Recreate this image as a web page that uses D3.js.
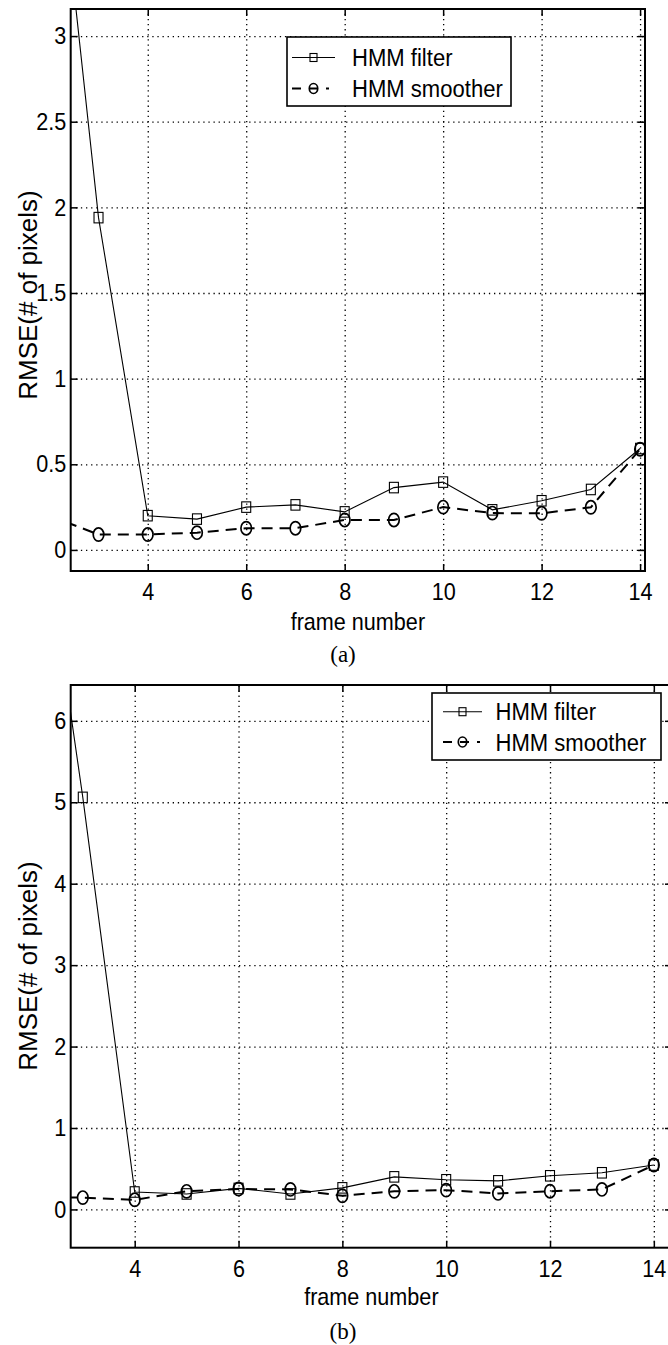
<!DOCTYPE html>
<html>
<head>
<meta charset="utf-8">
<script src="https://cdn.jsdelivr.net/npm/d3@7"></script>
<style>
  body { margin: 0; background: #fff; }
  text { font-family: "Liberation Sans", Arial, sans-serif; fill: #000; }
  .caption { font-family: "Liberation Serif", "Times New Roman", serif; }
</style>
</head>
<body>
<svg id="chart"></svg>
<script>
// values
const frames = [2, 3, 4, 5, 6, 7, 8, 9, 10, 11, 12, 13, 14];
const filterA = [4.6, 1.94, 0.2, 0.18, 0.25, 0.263, 0.222, 0.364, 0.396, 0.234, 0.287, 0.353, 0.592];
const smootherA = [0.2, 0.09, 0.09, 0.101, 0.127, 0.127, 0.175, 0.175, 0.25, 0.215, 0.214, 0.249, 0.588];
const filterB = [9.5, 5.06, 0.214, 0.19, 0.258, 0.19, 0.265, 0.4, 0.364, 0.351, 0.413, 0.45, 0.545];
const smootherB = [0.15, 0.145, 0.118, 0.222, 0.25, 0.246, 0.168, 0.222, 0.237, 0.197, 0.224, 0.246, 0.545];

const xTicks = [4, 6, 8, 10, 12, 14];
const yTicksA = [0, 0.5, 1, 1.5, 2, 2.5, 3];
const yTicksB = [0, 1, 2, 3, 4, 5, 6];
const seriesNames = ["HMM filter", "HMM smoother"];
const xLabel = "frame number";
const yLabel = "RMSE(# of pixels)";
const captions = ["(a)", "(b)"];

const width = 668;
const height = 1345;

const svg = d3.select("#chart").attr("width", width).attr("height", height);

const panels = [
  {
    id: "a", filter: filterA, smoother: smootherA, yTicks: yTicksA, caption: captions[0],
    left: 70.7, right: 645, top: 9, bottom: 571,
    xDomain: [2.435, 14.1], yDomain: [-0.123, 3.158],
    yLabelY: 295, captionY: 662, xLabelY: 630,
    legend: { x0: 287, x1: 511, y0: 37, y1: 106, sx0: 292, sx1: 335, tx: 352, rows: [57.5, 88.5] }
  },
  {
    id: "b", filter: filterB, smoother: smootherB, yTicks: yTicksB, caption: captions[1],
    left: 70.7, right: 672, top: 685, bottom: 1247.7,
    xDomain: [2.767, 14.35], yDomain: [-0.47, 6.44],
    yLabelY: 966, captionY: 1339, xLabelY: 1305,
    legend: { x0: 432, x1: 661, y0: 693, y1: 760, sx0: 443, sx1: 482, tx: 495.5, rows: [711.7, 742] }
  }
];

// narrow Helvetica look: squeeze the glyphs horizontally
function narrowText(g, x, y, str, size, sx, anchor) {
  return g.append("text")
    .attr("transform", `translate(${x}, ${y}) scale(${sx}, 1)`)
    .attr("text-anchor", anchor || "start")
    .attr("font-size", size)
    .text(str);
}

function square(g, cx, cy, w, h) {
  g.append("rect")
    .attr("x", cx - w / 2).attr("y", cy - h / 2)
    .attr("width", w).attr("height", h)
    .attr("fill", "none").attr("stroke", "#000").attr("stroke-width", 1.1);
}

function circle(g, cx, cy, rx, ry) {
  g.append("ellipse")
    .attr("cx", cx).attr("cy", cy).attr("rx", rx).attr("ry", ry)
    .attr("fill", "none").attr("stroke", "#000").attr("stroke-width", 1.7);
}

panels.forEach(p => {
  const x = d3.scaleLinear().domain(p.xDomain).range([p.left, p.right]);
  const y = d3.scaleLinear().domain(p.yDomain).range([p.bottom, p.top]);
  const w = p.right - p.left;
  const h = p.bottom - p.top;

  const g = svg.append("g").attr("id", "panel-" + p.id);

  // dotted grid
  const gx = g.append("g")
    .attr("transform", `translate(0, ${p.bottom})`)
    .call(d3.axisBottom(x).tickValues(xTicks).tickSize(-h).tickFormat(""));
  const gy = g.append("g")
    .attr("transform", `translate(${p.left}, 0)`)
    .call(d3.axisLeft(y).tickValues(p.yTicks).tickSize(-w).tickFormat(""));
  [gx, gy].forEach(a => {
    a.select(".domain").remove();
    a.selectAll("line").attr("stroke", "#000").attr("stroke-width", 1.3).attr("stroke-dasharray", "1.3,3.8");
  });

  // series
  const clipId = "clip-" + p.id;
  g.append("clipPath").attr("id", clipId)
    .append("rect").attr("x", p.left).attr("y", p.top).attr("width", w).attr("height", h);
  const plot = g.append("g").attr("clip-path", `url(#${clipId})`);

  const line = d3.line().x(d => x(d[0])).y(d => y(d[1]));
  const filterPts = frames.map((f, i) => [f, p.filter[i]]);
  const smootherPts = frames.map((f, i) => [f, p.smoother[i]]);

  plot.append("path").datum(smootherPts)
    .attr("d", line).attr("fill", "none").attr("stroke", "#000")
    .attr("stroke-width", 2).attr("stroke-dasharray", "11,7");
  plot.append("path").datum(filterPts)
    .attr("d", line).attr("fill", "none").attr("stroke", "#000").attr("stroke-width", 1.1);

  filterPts.forEach(d => square(plot, x(d[0]), y(d[1]), 9, 10.5));
  smootherPts.forEach(d => circle(plot, x(d[0]), y(d[1]), 5.3, 6.6));

  // legend
  const L = p.legend;
  const lg = g.append("g").attr("class", "legend");
  lg.append("rect")
    .attr("x", L.x0).attr("y", L.y0).attr("width", L.x1 - L.x0).attr("height", L.y1 - L.y0)
    .attr("fill", "#fff").attr("stroke", "#000").attr("stroke-width", 1.6);
  const mid = (L.sx0 + L.sx1) / 2;
  lg.append("line")
    .attr("x1", L.sx0).attr("x2", L.sx1).attr("y1", L.rows[0]).attr("y2", L.rows[0])
    .attr("stroke", "#000").attr("stroke-width", 1.1);
  square(lg, mid, L.rows[0], 7, 8);
  lg.append("line")
    .attr("x1", L.sx0).attr("x2", L.sx1).attr("y1", L.rows[1]).attr("y2", L.rows[1])
    .attr("stroke", "#000").attr("stroke-width", 2).attr("stroke-dasharray", "9,8,9,8,3,100");
  circle(lg, mid, L.rows[1], 4.2, 5);
  seriesNames.forEach((name, i) => {
    narrowText(lg, L.tx, L.rows[i] + 8.5, name, 24, 0.92);
  });

  // axes with inward ticks on all four sides
  const axB = g.append("g").attr("transform", `translate(0, ${p.bottom})`)
    .call(d3.axisBottom(x).tickValues(xTicks).tickSize(-7).tickPadding(14).tickFormat(d3.format("d")));
  const axT = g.append("g").attr("transform", `translate(0, ${p.top})`)
    .call(d3.axisTop(x).tickValues(xTicks).tickSize(-7).tickFormat(""));
  const axL = g.append("g").attr("transform", `translate(${p.left}, 0)`)
    .call(d3.axisLeft(y).tickValues(p.yTicks).tickSize(-7).tickPadding(5).tickFormat(d3.format("~g")));
  const axR = g.append("g").attr("transform", `translate(${p.right}, 0)`)
    .call(d3.axisRight(y).tickValues(p.yTicks).tickSize(-7).tickFormat(""));
  [axB, axT, axL, axR].forEach(a => {
    a.select(".domain").remove();
    a.selectAll("line").attr("stroke", "#000").attr("stroke-width", 1.5);
    a.selectAll("text")
      .attr("font-size", 24).attr("font-family", null).attr("fill", "#000")
      .attr("transform", "scale(0.9, 1)");
  });
  axB.selectAll("text").attr("dy", "0.62em");

  g.append("rect")
    .attr("x", p.left).attr("y", p.top).attr("width", w).attr("height", h)
    .attr("fill", "none").attr("stroke", "#000").attr("stroke-width", 2);

  // labels
  narrowText(g, (p.left + p.right) / 2, p.xLabelY, xLabel, 24, 0.9, "middle");
  g.append("text")
    .attr("transform", `translate(37, ${p.yLabelY}) rotate(-90)`)
    .attr("text-anchor", "middle").attr("font-size", 26)
    .text(yLabel);
  g.append("text")
    .attr("class", "caption")
    .attr("x", 343).attr("y", p.captionY)
    .attr("text-anchor", "middle").attr("font-size", 23)
    .text(p.caption);
});
</script>
</body>
</html>
